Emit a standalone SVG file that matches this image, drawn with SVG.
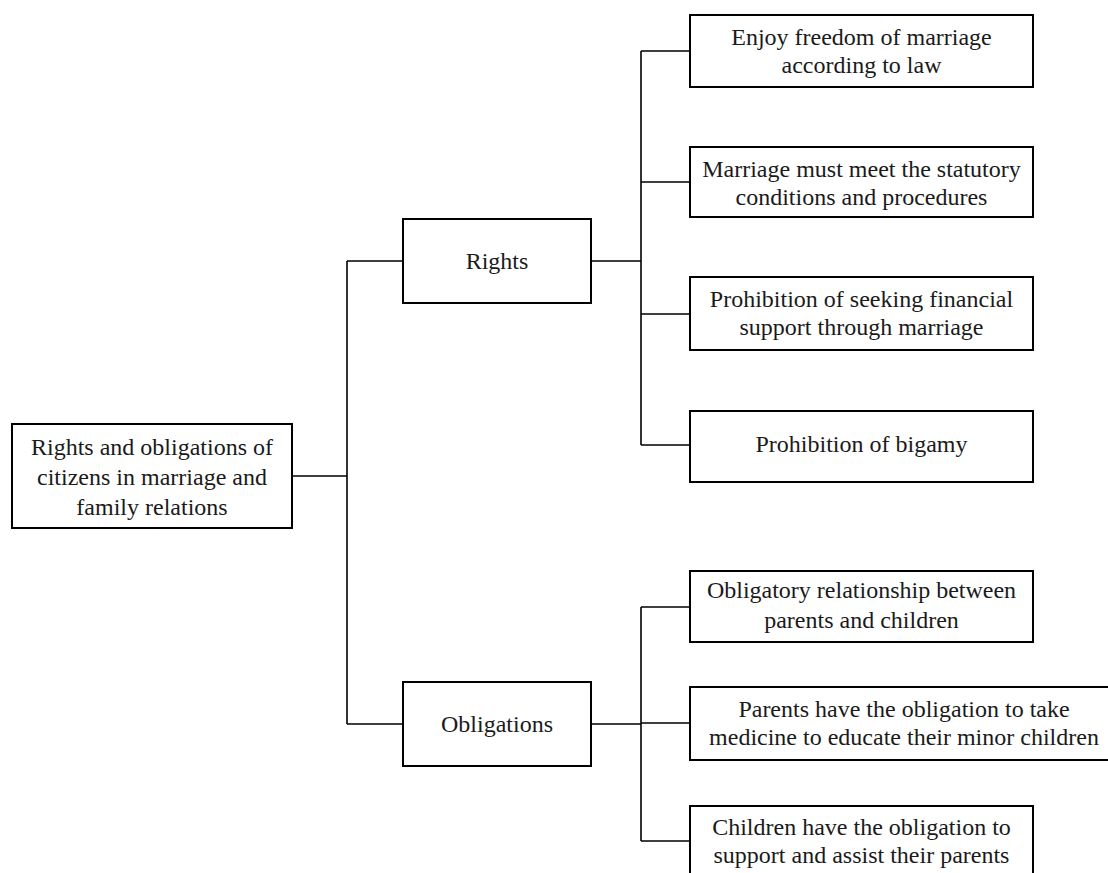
<svg xmlns="http://www.w3.org/2000/svg" width="1108" height="873" viewBox="0 0 1108 873">
<style>
.box{fill:#fff;stroke:#000;stroke-width:2}
.ln{fill:none;stroke:#000;stroke-width:1.6}
text{font-family:"Liberation Serif","Times New Roman",serif;fill:#1a1a1a;text-anchor:middle;font-size:24px}
</style>
<rect width="1108" height="873" fill="#fff"/>
<g id="connectors">
<path class="ln" d="M292,476 H347 M347,261 V724 M347,261 H403 M347,724 H403"/>
<path class="ln" d="M591,261 H641 M641,51 V445 M641,51 H690 M641,182 H690 M641,314 H690 M641,445 H690"/>
<path class="ln" d="M591,724 H641 M641,607 V841 M641,607 H690 M641,723 H690 M641,841 H690"/>
</g>
<g id="root"><rect class="box" x="12" y="424" width="280" height="104"/>
<text x="152" y="455">Rights and obligations of</text>
<text x="152" y="485">citizens in marriage and</text>
<text x="152" y="515">family relations</text></g>
<g id="rights"><rect class="box" x="403" y="219" width="188" height="84"/>
<text x="497" y="269">Rights</text></g>
<g id="obligations"><rect class="box" x="403" y="682" width="188" height="84"/>
<text x="497" y="732">Obligations</text></g>
<g id="r1"><rect class="box" x="690" y="15" width="343" height="72"/>
<text x="861.5" y="45">Enjoy freedom of marriage</text>
<text x="861.5" y="73">according to law</text></g>
<g id="r2"><rect class="box" x="690" y="147" width="343" height="70"/>
<text x="861.5" y="177">Marriage must meet the statutory</text>
<text x="861.5" y="205">conditions and procedures</text></g>
<g id="r3"><rect class="box" x="690" y="277" width="343" height="73"/>
<text x="861.5" y="307">Prohibition of seeking financial</text>
<text x="861.5" y="335">support through marriage</text></g>
<g id="r4"><rect class="box" x="690" y="411" width="343" height="71"/>
<text x="861.5" y="452">Prohibition of bigamy</text></g>
<g id="o1"><rect class="box" x="690" y="571" width="343" height="71"/>
<text x="861.5" y="598">Obligatory relationship between</text>
<text x="861.5" y="628">parents and children</text></g>
<g id="o2"><rect class="box" x="690" y="687" width="428" height="73"/>
<text x="904" y="717">Parents have the obligation to take</text>
<text x="904" y="745">medicine to educate their minor children</text></g>
<g id="o3"><rect class="box" x="690" y="806" width="343" height="71"/>
<text x="861.5" y="835">Children have the obligation to</text>
<text x="861.5" y="863">support and assist their parents</text></g>
</svg>
